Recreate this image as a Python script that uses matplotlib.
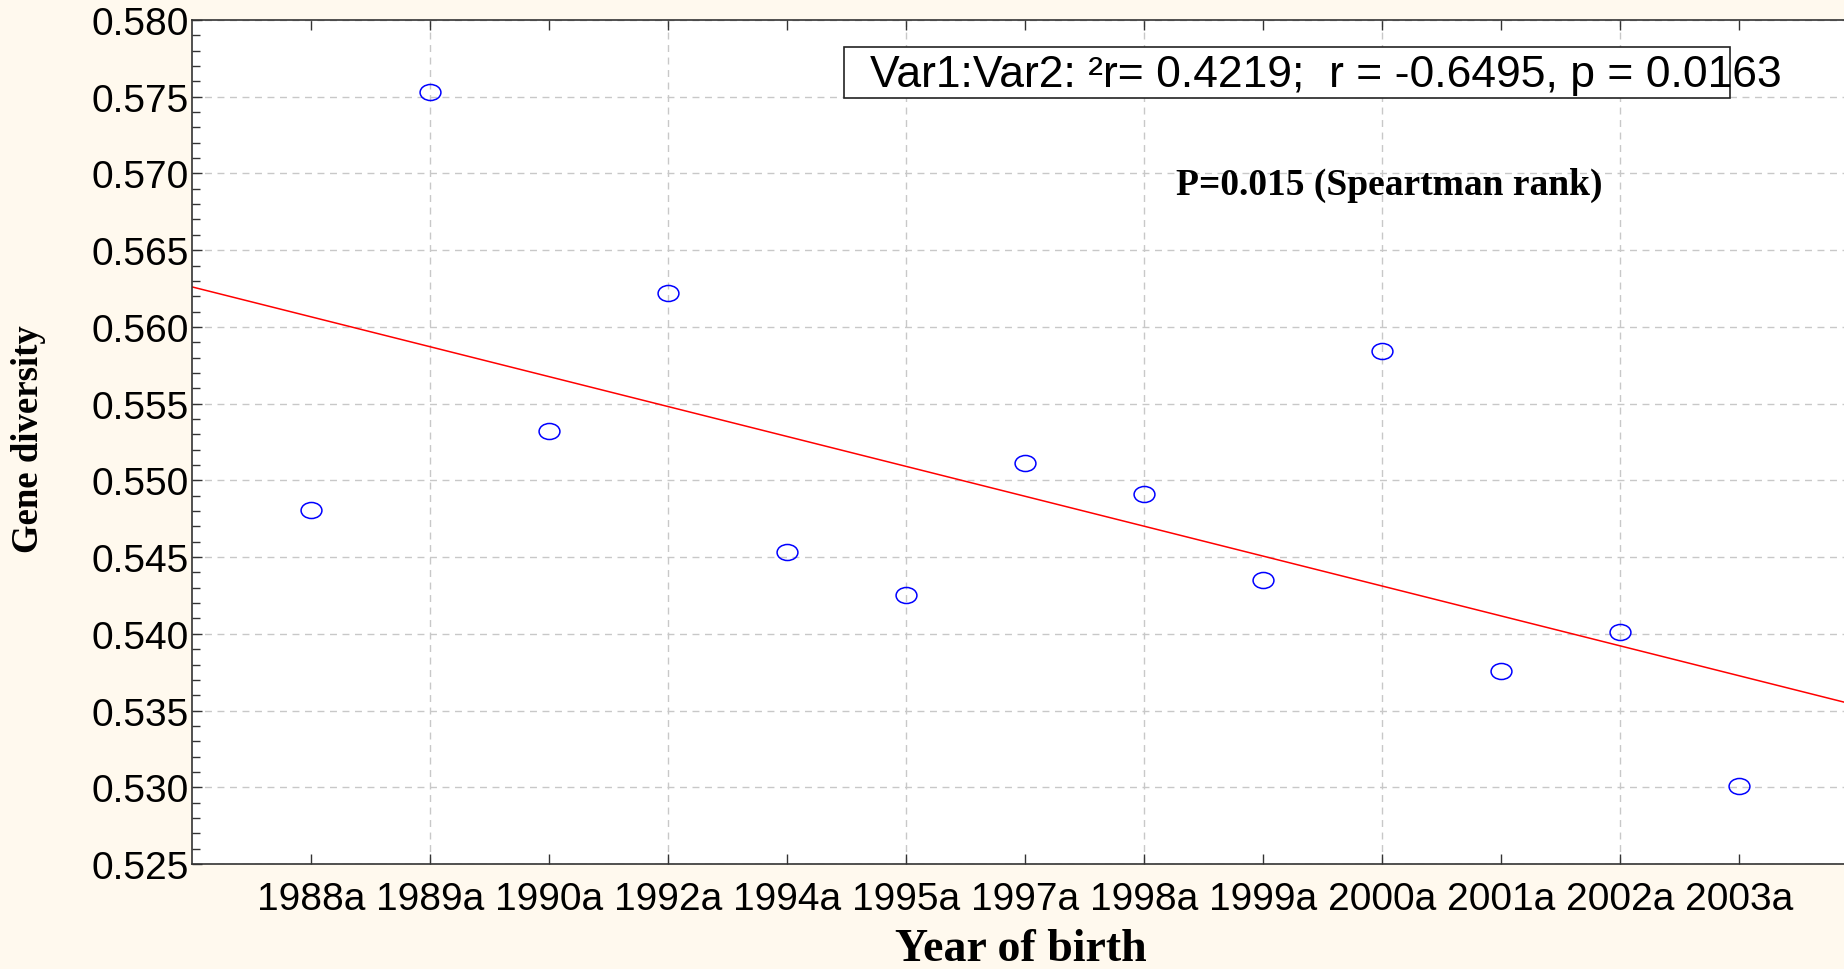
import numpy as np
import matplotlib
matplotlib.use("Agg")
import matplotlib.pyplot as plt
from matplotlib.path import Path
from matplotlib.transforms import Affine2D
from matplotlib.ticker import MultipleLocator
from matplotlib.patches import Rectangle

# data
years = ["1988a", "1989a", "1990a", "1992a", "1994a", "1995a", "1997a",
         "1998a", "1999a", "2000a", "2001a", "2002a", "2003a"]
gene_div = [0.5481, 0.5753, 0.5532, 0.5622, 0.5453, 0.5425, 0.5511,
            0.5491, 0.5435, 0.5584, 0.5376, 0.5401, 0.5301]
stats_text = "Var1:Var2: \u00b2r= 0.4219;  r = -0.6495, p = 0.0163"
spearman_text = "P=0.015 (Speartman rank)"

bg = "#FFF9EE"
sans = ["Liberation Sans", "DejaVu Sans"]
serif = ["Liberation Serif", "DejaVu Serif"]

x = np.arange(1, len(years) + 1)
y = np.array(gene_div)

fig = plt.figure(figsize=(18.44, 9.70), dpi=100, facecolor=bg)
ax = fig.add_axes([192 / 1844, 1 - 865 / 970, 1 - 192 / 1844, (865 - 21) / 970])
ax.set_facecolor("white")

xmin, xmax = 0, 13.88
ax.set_xlim(xmin, xmax)
ax.set_ylim(0.525, 0.580)

# grid
ax.yaxis.set_major_locator(MultipleLocator(0.005))
ax.yaxis.set_minor_locator(MultipleLocator(0.001))
ax.grid(axis="y", which="major", color="#c8c8c8", linestyle=(0, (5, 4)), linewidth=1.0)
ax.vlines(x[1::2], 0, 1, transform=ax.get_xaxis_transform(),
          colors="#c8c8c8", linestyles=(0, (5, 4)), linewidth=1.0, zorder=0.5)

# ellipse marker, a bit wider than tall
ell = Path.unit_circle().transformed(Affine2D().scale(1.3, 1.0))
ax.plot(x, y, linestyle="none", marker=ell, markersize=15,
        markerfacecolor="none", markeredgecolor="#0000ff", markeredgewidth=1.1, zorder=3)

# regression line
slope, icpt = np.polyfit(x, y, 1)
xl = np.array([xmin, xmax])
ax.plot(xl, icpt + slope * xl, color="#ff0000", linewidth=1.1, zorder=2)

ax.set_xticks(x)
ax.set_xticklabels(years, fontfamily=sans, fontsize=28)
ax.set_yticks(np.arange(0.525, 0.5801, 0.005))
ax.set_yticklabels(["%.3f" % v for v in np.arange(0.525, 0.5801, 0.005)],
                   fontfamily=sans, fontsize=28)
ax.tick_params(axis="x", which="both", direction="in", top=True, length=7,
               width=1, color="#333333", pad=12)
ax.tick_params(axis="y", which="major", direction="in", length=7, width=1,
               color="#333333", pad=2)
ax.tick_params(axis="y", which="minor", direction="in", length=6, width=1,
               color="#333333")

for side in ["left", "bottom", "top"]:
    ax.spines[side].set_color("#333333")
    ax.spines[side].set_linewidth(1.2)
ax.spines["right"].set_visible(False)

ax.set_xlabel("Year of birth", fontfamily=serif, fontweight="bold", fontsize=33)
ax.xaxis.set_label_coords(0.502, -0.1007)
ax.xaxis.label.set_va("center")
ax.set_ylabel("Gene diversity", fontfamily=serif, fontweight="bold", fontsize=26.5)
ax.yaxis.set_label_coords(-0.0987, 0.5047)
ax.yaxis.label.set_va("center")

# stats box (text runs a bit past its frame, as in the original)
box_l, box_r = (844 - 192) / 1652, (1730 - 192) / 1652
box_b, box_t = (865 - 99) / 844, (865 - 48) / 844
ax.add_patch(Rectangle((box_l, box_b), box_r - box_l, box_t - box_b,
                       transform=ax.transAxes, facecolor="white",
                       edgecolor="#222222", linewidth=1.2, zorder=4))
ax.text((870 - 192) / 1652, (865 - 76) / 844, stats_text, transform=ax.transAxes,
        ha="left", va="center", fontfamily=sans, fontsize=32, zorder=5)

ax.text(0.725, 0.8057, spearman_text, transform=ax.transAxes, ha="center",
        va="center", fontfamily=serif, fontweight="bold", fontsize=27, zorder=5)

fig.savefig("out.png", dpi=100, facecolor=bg)
